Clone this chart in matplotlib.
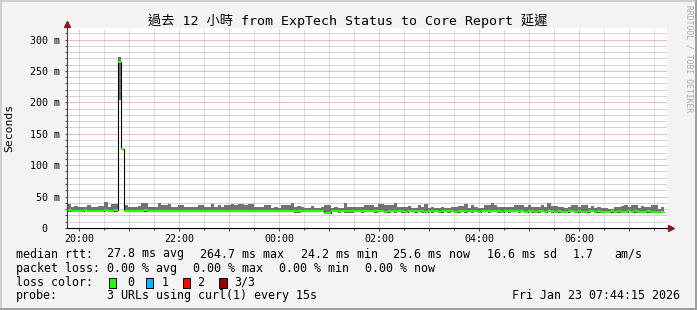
import numpy as np
import matplotlib
matplotlib.use('Agg')
import matplotlib.pyplot as plt
from matplotlib.lines import Line2D
from matplotlib.patches import Rectangle
from matplotlib.ticker import MultipleLocator, FuncFormatter

W, H = 697, 310
MONO = ['DejaVu Sans Mono', 'Noto Sans CJK TC']

# time axis in hours (24+ = next day), one sample every 4 minutes
t_start = 19.77
step_h = 4 / 60.0

median_ms = [
    28.0, 27.6, 27.8, 27.4, 27.7, 27.9, 27.5, 27.3, 27.8, 27.6, 27.3, 28.1, 27.7, 27.5, 27.9,
    264.7, 125.0,
    27.6, 27.4, 27.8, 27.5, 27.2, 27.7, 27.9, 27.4, 27.6, 27.3, 27.8, 27.5, 27.6,
    27.7, 27.3, 27.5, 27.8, 27.4, 27.6, 27.2, 27.5, 27.7, 27.3, 27.6, 27.4, 27.1, 27.5, 27.3,
    27.6, 27.2, 27.4, 27.7, 27.3, 27.5, 27.1, 27.6, 27.4, 27.2, 27.5, 27.3, 27.0, 27.4, 27.2,
    27.5, 27.1, 26.8, 27.3, 27.0, 26.6, 27.2, 27.4, 26.9, 27.1, 26.7, 26.9, 27.2, 26.8, 27.0,
    26.7, 26.9, 24.6, 24.2, 26.5, 26.8, 26.4, 26.7, 26.9, 26.5, 26.3, 26.6, 26.8, 26.4, 26.7,
    26.5, 26.8, 26.4, 26.6, 26.9, 26.2, 26.5, 26.7, 26.3, 26.6, 26.4, 26.1, 26.5, 26.7, 26.3,
    26.6, 26.4, 26.2, 26.5, 26.3, 26.6, 26.2, 26.4, 26.7, 26.3, 26.5, 26.1, 26.4, 26.6, 26.3,
    26.8, 26.4, 26.6, 26.2, 26.5, 26.7, 26.3, 26.5, 26.8, 26.4, 26.2, 26.6, 26.3, 26.5, 26.7,
    26.4, 26.6, 26.2, 26.5, 26.3, 26.1, 26.4, 26.6, 26.2, 26.5, 26.3, 26.1, 26.4, 26.2, 26.0,
    26.3, 26.5, 26.1, 26.4, 26.2, 26.0, 26.3, 26.5, 26.1, 26.3, 25.9, 26.2, 26.0, 26.3, 26.1,
    26.4, 26.0, 26.2, 26.5, 26.1, 26.3, 25.9, 26.2, 26.0, 26.3, 26.1, 25.8, 26.0, 25.6,
]

smoke_hi = [
    38.5, 34, 34.5, 33.5, 34, 34, 36, 33.5, 33.5, 35, 35, 41.5, 34, 38, 38,
    272, 125.5,
    37, 34, 33.5, 34, 34.5, 39, 39, 34, 33.5, 34, 39, 36, 36,
    38.5, 34, 34, 37, 37, 34, 33.5, 34, 34, 36.5, 36.5, 34, 34, 38, 34,
    36, 33.5, 36.5, 36.5, 37.5, 36.5, 38, 37.5, 37, 38, 37.5, 34, 33.5, 34, 36,
    36, 32.5, 33, 32.5, 36, 36.5, 36, 39, 34, 34.5, 34, 32.5, 32.5, 35, 32.5,
    32.5, 33, 36, 36, 32.5, 33, 32.5, 32.5, 40, 33, 33.5, 33, 33, 33, 36,
    36, 36, 34, 37.5, 37.5, 36, 36.5, 36, 40, 33, 34, 34, 34.5, 32, 32,
    36, 34, 37.5, 32.5, 33, 32.5, 32.5, 33, 32.5, 32.5, 34, 34, 35, 35, 38,
    32, 36, 34, 32, 32, 36, 36, 39, 36, 33, 33, 33, 34, 34, 36,
    36, 36, 33, 37, 33, 33, 33, 36, 33, 40, 34.5, 34.5, 33, 33, 31.5,
    33, 37, 37, 33, 36, 36, 31.5, 34.5, 31.5, 33, 31.5, 31.5, 30, 30, 33,
    33, 34.5, 36, 34, 36, 36, 31.5, 34.5, 33, 34, 36, 36, 31, 33,
]

smoke_lo = [
    26.2, 25.9, 26.1, 25.7, 26.0, 26.3, 25.8, 25.5, 26.0, 25.9, 25.6, 26.4, 26.0, 25.7, 26.1,
    204.0, 124.5,
    25.8, 25.6, 26.0, 25.7, 25.4, 25.9, 26.1, 25.6, 25.8, 25.5, 26.0, 25.7, 25.8,
    25.9, 25.5, 25.7, 26.0, 25.6, 25.8, 25.4, 25.7, 25.9, 25.5, 25.8, 25.6, 25.3, 25.7, 25.5,
    25.8, 25.4, 25.6, 25.9, 25.5, 25.7, 25.3, 25.8, 25.6, 25.4, 25.7, 25.5, 25.2, 25.6, 25.4,
    25.7, 25.3, 25.0, 25.5, 25.2, 24.8, 25.4, 25.6, 23.5, 23.6, 24.9, 25.1, 25.4, 25.0, 25.2,
    24.9, 25.1, 22.5, 22.2, 24.7, 25.0, 24.6, 24.9, 23.4, 23.3, 24.5, 24.8, 25.0, 24.6, 24.9,
    24.7, 25.0, 24.6, 24.8, 25.1, 24.4, 23.5, 24.9, 24.5, 24.8, 24.6, 23.3, 24.7, 24.9, 24.5,
    24.8, 24.6, 24.4, 24.7, 24.5, 24.8, 24.4, 24.6, 24.9, 24.5, 24.7, 24.3, 24.6, 24.8, 24.5,
    25.0, 24.6, 24.8, 24.4, 24.7, 24.9, 24.5, 24.7, 25.0, 24.6, 24.4, 24.8, 24.5, 24.7, 24.9,
    24.6, 24.8, 24.4, 24.7, 24.5, 24.3, 24.6, 24.8, 24.4, 24.7, 24.5, 24.3, 24.6, 24.4, 24.2,
    24.5, 24.7, 24.3, 24.6, 24.4, 24.2, 24.5, 24.7, 24.3, 24.5, 24.1, 24.4, 24.2, 24.5, 24.3,
    24.6, 24.2, 24.4, 24.7, 24.3, 24.5, 24.1, 24.4, 24.2, 24.5, 24.3, 24.0, 24.2, 23.8,
]

title = '過去 12 小時 from ExpTech Status to Core Report 延遲'
y_ticks = [0, 50, 100, 150, 200, 250, 300]
y_labels = ['0  ', '50 m', '100 m', '150 m', '200 m', '250 m', '300 m']

legend_rtt = [('median rtt:', 16), ('27.8 ms avg', 107.3), ('264.7 ms max', 200),
              ('24.2 ms min', 300.7), ('25.6 ms now', 393.3), ('16.6 ms sd', 486.7),
              ('1.7', 572.7), ('am/s', 614.3)]
legend_loss = [('packet loss:', 16), ('0.00 % avg', 107.3), ('0.00 % max', 193.3),
               ('0.00 % min', 279.3), ('0.00 % now', 365.3)]
loss_names = ['0', '1', '2', '3/3']
loss_colors = ['#26ff00', '#00b8ff', '#ff0000', '#a00000']
loss_box_x = [108.7, 145.7, 182.7, 219.3]
loss_text_x = [127.3, 161.7, 197.3, 234]
probe_text = '3 URLs using curl(1) every 15s'
stamp = 'Fri Jan 23 07:44:15 2026'


def fx(x):
    return x / W


def fy(y):
    return 1 - y / H


median_ms = np.array(median_ms)
smoke_hi = np.array(smoke_hi)
smoke_lo = np.array(smoke_lo)
edges = t_start + step_h * np.arange(len(median_ms) + 1)

fig = plt.figure(figsize=(W / 100, H / 100), dpi=100, facecolor='#f3f3f3')
ax = fig.add_axes([fx(67), fy(228), 600 / W, 200.3 / H])
ax.set_facecolor('white')
ax.set_xlim(19.76, 31.76)
ax.set_ylim(0, 318.8)
for s in ax.spines.values():
    s.set_visible(False)

# grid
ax.xaxis.set_major_locator(MultipleLocator(1))
ax.xaxis.set_minor_locator(MultipleLocator(0.5))
ax.xaxis.set_major_formatter(FuncFormatter(
    lambda v, p: '%02d:00' % (int(round(v)) % 24) if int(round(v)) % 2 == 0 else ''))
ax.set_yticks(y_ticks)
ax.set_yticklabels(y_labels)
ax.yaxis.set_minor_locator(MultipleLocator(10))
ax.set_axisbelow(True)
dots = (0, (1, 1))
ax.xaxis.grid(True, which='minor', color='#c2c2c2', linestyle=dots, linewidth=0.72, snap=True)
ax.xaxis.grid(True, which='major', color='#e8a0a0', linestyle=dots, linewidth=0.72, snap=True)
ax.yaxis.grid(True, which='minor', color='#a8a8a8', linestyle=dots, linewidth=0.72, snap=True)
ax.yaxis.grid(True, which='major', color='#dc7c7c', linestyle=dots, linewidth=0.72, snap=True)
ax.tick_params(which='major', length=1.8, width=0.7, color='#404040', labelsize=7.2,
               labelcolor='black')
ax.tick_params(which='minor', length=1.2, width=0.7, color='#404040')
ax.tick_params(axis='y', pad=3.2)
ax.tick_params(axis='x', pad=2.2)
for lab in ax.get_xticklabels() + ax.get_yticklabels():
    lab.set_family(MONO)

# smoke, median outline, loss colored median
ax.stairs(smoke_hi, edges, baseline=smoke_lo, fill=True, color='#727272', lw=0)
ax.stairs(median_ms, edges, baseline=None, color='black', lw=0.8)
ax.hlines(median_ms, edges[:-1], edges[1:], colors=loss_colors[0], lw=1.5)

# axes lines and arrows
fig.add_artist(Line2D([fx(67), fx(67)], [fy(228), fy(25)], color='#404040', lw=0.8))
fig.add_artist(Line2D([fx(67), fx(670)], [fy(228), fy(228)], color='black', lw=0.8))
fig.add_artist(Line2D([fx(67)], [fy(23.5)], marker='^', ms=4, color='#8b1a1a', lw=0))
fig.add_artist(Line2D([fx(671)], [fy(228)], marker='>', ms=4, color='#8b1a1a', lw=0))

# frame
fig.add_artist(Line2D([0, 1], [fy(1), fy(1)], color='#cfcfcf', lw=1.44))
fig.add_artist(Line2D([fx(1), fx(1)], [0, 1], color='#cfcfcf', lw=1.44))
fig.add_artist(Line2D([0, 1], [fy(309), fy(309)], color='#9e9e9e', lw=1.44))
fig.add_artist(Line2D([fx(696), fx(696)], [0, 1], color='#9e9e9e', lw=1.44))

fig.text(fx(348), fy(21), title, ha='center', va='center', fontsize=9.5, family=MONO)
fig.text(fx(9.5), fy(128), 'Seconds', rotation=90, ha='center', va='center',
         fontsize=8.2, family=MONO)
fig.text(fx(688.5), fy(5), 'RRDTOOL / TOBI OETIKER', rotation=-90, ha='center', va='top',
         fontsize=5.8, color='#a8a8a8', family=MONO)

fs = 8.4
for txt, x in legend_rtt:
    fig.text(fx(x), fy(254), txt, ha='left', va='center', fontsize=fs, family=MONO)
for txt, x in legend_loss:
    fig.text(fx(x), fy(268.3), txt, ha='left', va='center', fontsize=fs, family=MONO)
fig.text(fx(16), fy(282.3), 'loss color:', ha='left', va='center', fontsize=fs, family=MONO)
for name, col, bx, tx in zip(loss_names, loss_colors, loss_box_x, loss_text_x):
    fig.add_artist(Rectangle((fx(bx), fy(287.5)), 7.5 / W, 10 / H, facecolor=col,
                             edgecolor='black', lw=0.7, transform=fig.transFigure))
    fig.text(fx(tx), fy(282.3), name, ha='left', va='center', fontsize=fs, family=MONO)
fig.text(fx(16), fy(295.7), 'probe:', ha='left', va='center', fontsize=fs, family=MONO)
fig.text(fx(107.3), fy(295.7), probe_text, ha='left', va='center', fontsize=fs, family=MONO)
fig.text(fx(680), fy(295.7), stamp, ha='right', va='center', fontsize=fs, family=MONO)

fig.savefig('out.png', dpi=100, facecolor=fig.get_facecolor())
